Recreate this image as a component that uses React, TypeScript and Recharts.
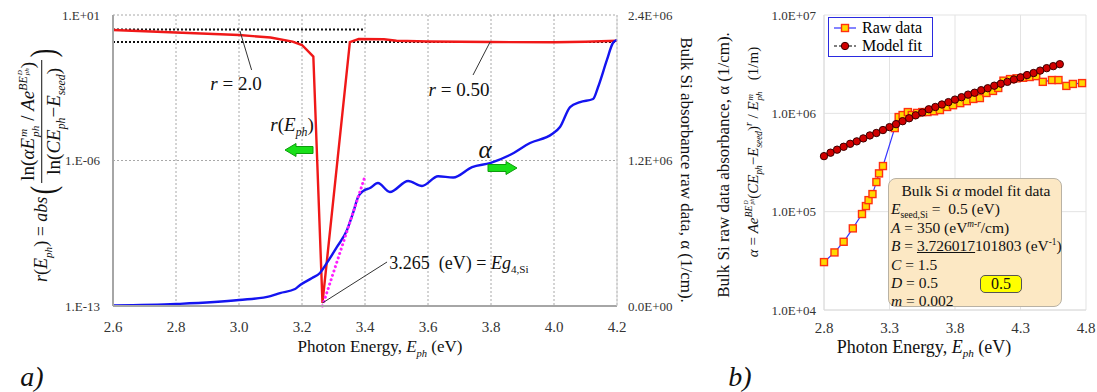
import React from 'react';
import { LineChart, Line, XAxis, YAxis, CartesianGrid, ReferenceLine, Legend } from 'recharts';

const SERIF = "'Liberation Serif', 'DejaVu Serif', serif";

// ---- panel a) ----
// r(E_ph), left log axis
const rEnergy = [2.6, 2.8, 3.0, 3.1, 3.17, 3.2, 3.236, 3.265, 3.352, 3.38, 3.46, 3.5, 3.6, 3.8, 4.0, 4.1, 4.2];
const rValue = [1.9, 1.45, 1.09, 0.83, 0.52, 0.36, 0.1, 1.4e-13, 0.5, 0.7, 0.68, 0.58, 0.53, 0.5, 0.49, 0.52, 0.58];

// raw absorbance alpha (1/cm), right linear axis
const alphaEnergy = [2.6, 2.8, 3.0, 3.1, 3.13, 3.178, 3.194, 3.232, 3.257, 3.279, 3.311, 3.343, 3.362, 3.378, 3.394, 3.416,
  3.441, 3.479, 3.537, 3.581, 3.632, 3.68, 3.74, 3.797, 3.86, 3.924, 3.994, 4.019, 4.051, 4.083, 4.124, 4.14, 4.168, 4.187, 4.2];
const alphaValue = [4e3, 16.5e3, 49e3, 82e3, 107e3, 140e3, 173e3, 231e3, 272e3, 355e3, 487e3, 627e3, 767e3, 899e3, 948e3, 973e3,
  1014e3, 940e3, 1031e3, 990e3, 1070e3, 1060e3, 1146e3, 1179e3, 1245e3, 1344e3, 1418e3, 1476e3, 1641e3, 1682e3, 1707e3, 1806e3, 2029e3, 2169e3, 2194e3];

// tangent used to read Eg
const tangentEnergy = [3.265, 3.4];
const tangentAlpha = [0, 1.07e6];

// dotted reference levels r = 2.0 and r = 0.50
const refTwoEnergy = [2.6, 3.4];
const refHalfEnergy = [2.6, 4.2];

const aTicksX = [2.6, 2.8, 3.0, 3.2, 3.4, 3.6, 3.8, 4.0, 4.2];
const aTicksLeft = [1e-13, 1e-6, 10];
const aTicksRight = [0, 1.2e6, 2.4e6];

// ---- panel b) ----
const rawEnergy = [2.8, 2.88, 2.95, 3.02, 3.09, 3.12, 3.14, 3.17, 3.2, 3.22, 3.25, 3.34, 3.37, 3.4, 3.44, 3.47, 3.51, 3.55,
  3.59, 3.64, 3.685, 3.74, 3.785, 3.84, 3.89, 3.94, 3.99, 4.04, 4.09, 4.13, 4.17, 4.22, 4.27, 4.32, 4.37, 4.42, 4.47, 4.54,
  4.59, 4.65, 4.7, 4.77];
const rawAlpha = [3.07e4, 3.85e4, 4.94e4, 6.76e4, 9.46e4, 1.14e5, 1.31e5, 1.51e5, 2.0e5, 2.45e5, 2.91e5, 7.08e5, 9.16e5, 9.61e5,
  1.03e6, 9.61e5, 1.01e6, 1.03e6, 1.03e6, 1.05e6, 1.08e6, 1.16e6, 1.21e6, 1.27e6, 1.33e6, 1.4e6, 1.43e6, 1.61e6, 1.69e6,
  1.81e6, 2.15e6, 2.23e6, 2.27e6, 2.3e6, 2.34e6, 2.39e6, 2.09e6, 2.18e6, 2.18e6, 1.9e6, 1.99e6, 2.03e6];

const fitEnergy = [2.8, 2.85, 2.9, 2.95, 3.0, 3.05, 3.1, 3.15, 3.2, 3.25, 3.3, 3.35, 3.4, 3.45, 3.5, 3.55, 3.6, 3.65, 3.7,
  3.75, 3.8, 3.85, 3.9, 3.95, 4.0, 4.05, 4.1, 4.15, 4.2, 4.25, 4.3, 4.35, 4.4, 4.45, 4.5, 4.55, 4.6];
const fitAlpha = [3.67e5, 3.98e5, 4.27e5, 4.57e5, 4.9e5, 5.19e5, 5.56e5, 5.96e5, 6.31e5, 6.76e5, 7.24e5, 7.76e5, 8.32e5,
  8.91e5, 9.55e5, 1.02e6, 1.1e6, 1.16e6, 1.23e6, 1.3e6, 1.38e6, 1.46e6, 1.55e6, 1.62e6, 1.72e6, 1.8e6, 1.91e6, 2.0e6,
  2.09e6, 2.21e6, 2.32e6, 2.45e6, 2.57e6, 2.72e6, 2.88e6, 3.02e6, 3.16e6];

const bTicksX = [2.8, 3.3, 3.8, 4.3, 4.8];
const bTicksY = [1e4, 1e5, 1e6, 1e7];

const pts = (xs: number[], ys: number[]) => xs.map((x, i) => ({ x, y: ys[i] }));

const pad2 = (n: number) => String(Math.abs(n)).padStart(2, '0');
const fmtShort = (v: number) => {
  const e = Math.round(Math.log10(v));
  return `1.E${e < 0 ? '-' : '+'}${pad2(e)}`;
};
const fmtSci = (v: number) => {
  if (v === 0) return '0.0E+00';
  const e = Math.floor(Math.log10(v) + 1e-9);
  return `${(v / 10 ** e).toFixed(1)}E${e < 0 ? '-' : '+'}${pad2(e)}`;
};

const tickStyle = { fontSize: 13, fill: '#333', fontFamily: SERIF };
const xTickStyle = { fontSize: 15, fill: '#333', fontFamily: SERIF };

// centred absolute text, optionally rotated
const at = (x: number, y: number, rot = 0): React.CSSProperties => ({
  position: 'absolute', left: x, top: y, whiteSpace: 'nowrap', fontFamily: SERIF, color: '#111',
  transform: `translate(-50%, -50%)${rot ? ` rotate(${rot}deg)` : ''}`,
});

const SS = ({ sup, sub }: { sup: React.ReactNode; sub: React.ReactNode }) => (
  <span style={{ display: 'inline-flex', flexDirection: 'column', fontSize: '0.6em', lineHeight: 1, verticalAlign: 'middle', marginLeft: 1 }}>
    <span>{sup}</span>
    <span>{sub}</span>
  </span>
);
const sub = { fontSize: '0.62em' };

const RawDot = (p: any) => (
  <rect key={`r${p.index}`} x={p.cx - 3.5} y={p.cy - 3.5} width={7} height={7} fill="#ffd800" stroke="#ff3010" strokeWidth={1.4} />
);
const FitDot = (p: any) => (
  <circle key={`f${p.index}`} cx={p.cx} cy={p.cy} r={3.7} fill="#d00000" stroke="#3a0000" strokeWidth={1} />
);

const LegendBox = () => (
  <div style={{ border: '1.5px solid #2a2ae0', background: '#fff', width: 105, height: 40, boxSizing: 'border-box', fontFamily: SERIF, fontSize: 16, padding: '1px 4px', whiteSpace: 'nowrap' }}>
    <div style={{ display: 'flex', alignItems: 'center', height: 18 }}>
      <svg width={24} height={12} style={{ marginRight: 5 }}>
        <line x1={1} y1={6} x2={23} y2={6} stroke="#3333ff" strokeWidth={1.2} />
        <rect x={8.5} y={2.5} width={7} height={7} fill="#ffd800" stroke="#ff3010" strokeWidth={1.4} />
      </svg>
      Raw data
    </div>
    <div style={{ display: 'flex', alignItems: 'center', height: 18 }}>
      <svg width={24} height={12} style={{ marginRight: 5 }}>
        <line x1={1} y1={6} x2={23} y2={6} stroke="#000" strokeWidth={1.2} strokeDasharray="3 2" />
        <circle cx={12} cy={6} r={3.7} fill="#d00000" stroke="#3a0000" strokeWidth={1} />
      </svg>
      Model fit
    </div>
  </div>
);

export default function App() {
  return (
    <div style={{ position: 'fixed', left: 0, top: 0, width: 1097, height: 392, background: '#fff', overflow: 'hidden', fontFamily: SERIF }}>
      {/* panel a */}
      <div style={{ position: 'absolute', left: 0, top: 0 }}>
        <LineChart width={740} height={392} margin={{ top: 15, right: 0, bottom: 56, left: 0 }}>
          <CartesianGrid yAxisId="left" stroke="#a8a8a8" strokeDasharray="2 2" />
          <XAxis type="number" dataKey="x" domain={[2.6, 4.2]} ticks={aTicksX} tickFormatter={(v) => v.toFixed(1)}
            height={30} tickLine={false} tickMargin={9} tick={xTickStyle} axisLine={{ stroke: '#a6a6a6', strokeWidth: 2 }} allowDuplicatedCategory={false} />
          <YAxis yAxisId="left" scale="log" domain={[1e-13, 10]} ticks={aTicksLeft} tickFormatter={fmtShort} allowDataOverflow
            width={113} tickLine={false} tickMargin={7} tick={tickStyle} axisLine={{ stroke: '#a6a6a6', strokeWidth: 2 }} />
          <YAxis yAxisId="right" orientation="right" domain={[0, 2.4e6]} ticks={aTicksRight} tickFormatter={fmtSci}
            width={123} tickLine={false} tickMargin={5} tick={tickStyle} axisLine={{ stroke: '#d0d0d0' }} />

          <Line yAxisId="left" data={pts(refTwoEnergy, [2.0, 2.0])} dataKey="y" stroke="#111" strokeWidth={2} strokeDasharray="2 2" dot={false} isAnimationActive={false} />
          <Line yAxisId="left" data={pts(refHalfEnergy, [0.5, 0.5])} dataKey="y" stroke="#111" strokeWidth={2} strokeDasharray="2 2" dot={false} isAnimationActive={false} />
          <Line yAxisId="left" data={pts(rEnergy, rValue)} dataKey="y" stroke="#f01818" strokeWidth={2.4} dot={false} type="linear" isAnimationActive={false} />
          <Line yAxisId="right" data={pts(alphaEnergy, alphaValue)} dataKey="y" stroke="#1414f0" strokeWidth={2.4} dot={false} type="monotone" isAnimationActive={false} />
          <Line yAxisId="right" data={pts(tangentEnergy, tangentAlpha)} dataKey="y" stroke="#ff20ff" strokeWidth={3} strokeDasharray="0.1 4.5" strokeLinecap="round" dot={false} isAnimationActive={false} />

          <ReferenceLine yAxisId="left" segment={[{ x: 3.003, y: 1.7 }, { x: 3.04, y: 0.0227 }]} stroke="#333" strokeWidth={1} />
          <ReferenceLine yAxisId="left" segment={[{ x: 3.797, y: 0.5 }, { x: 3.743, y: 0.013 }]} stroke="#333" strokeWidth={1} />
          <ReferenceLine yAxisId="right" segment={[{ x: 3.265, y: 25000 }, { x: 3.47, y: 363000 }]} stroke="#333" strokeWidth={1} />
        </LineChart>
      </div>

      {/* panel b */}
      <div style={{ position: 'absolute', left: 740, top: 0 }}>
        <LineChart width={357} height={392} margin={{ top: 15, right: 11, bottom: 52, left: 0 }}>
          <CartesianGrid stroke="#e3e3e3" />
          <XAxis type="number" dataKey="x" domain={[2.8, 4.8]} ticks={bTicksX} tickFormatter={(v) => v.toFixed(1)}
            height={30} tickLine={false} tickMargin={6} tick={xTickStyle} axisLine={{ stroke: '#dcdcdc' }} />
          <YAxis scale="log" domain={[1e4, 1e7]} ticks={bTicksY} tickFormatter={fmtSci} allowDataOverflow
            width={84} tickLine={false} tickMargin={2} tick={tickStyle} axisLine={{ stroke: '#dcdcdc' }} />
          <Legend layout="horizontal" verticalAlign="middle" align="center" content={() => <LegendBox />}
            wrapperStyle={{ left: 88, top: 17, width: 105, height: 40 }} />
          <Line data={pts(rawEnergy, rawAlpha)} dataKey="y" name="Raw data" stroke="#3535ff" strokeWidth={1.2} dot={RawDot} isAnimationActive={false} />
          <Line data={pts(fitEnergy, fitAlpha)} dataKey="y" name="Model fit" stroke="#000" strokeWidth={1} strokeDasharray="3 2" dot={FitDot} isAnimationActive={false} />
        </LineChart>
      </div>

      {/* green arrows */}
      <svg width={1097} height={392} style={{ position: 'absolute', left: 0, top: 0, pointerEvents: 'none' }}>
        <polygon points="285,150 296,143.5 296,146.5 313,146.5 313,153.5 296,153.5 296,156.5" fill="#19e019" stroke="#0c9c0c" strokeWidth={1} />
        <polygon points="517,168 506,161.5 506,164.5 488,164.5 488,171.5 506,171.5 506,174.5" fill="#19e019" stroke="#0c9c0c" strokeWidth={1} />
      </svg>

      {/* panel a annotations */}
      <div style={{ ...at(236, 84), fontSize: 19 }}><i>r</i> = 2.0</div>
      <div style={{ ...at(459, 90), fontSize: 19 }}><i>r</i> = 0.50</div>
      <div style={{ ...at(292, 127), fontSize: 19 }}><i>r</i>(<i>E<sub style={sub}>ph</sub></i>)</div>
      <div style={{ ...at(485, 150), fontSize: 25 }}><i>α</i></div>
      <div style={{ ...at(459, 264), fontSize: 18 }}>3.265&nbsp; (eV) = <i>Eg</i><sub style={sub}>4,Si</sub></div>

      <div style={{ ...at(380, 348), fontSize: 17 }}>Photon Energy, <i>E<sub style={sub}>ph</sub></i> (eV)</div>
      <div style={{ ...at(686, 170, 90), fontSize: 17 }}>Bulk Si absorbance raw data, α (1/cm).</div>

      <div style={{ ...at(43, 164, -90), fontSize: 18, display: 'flex', alignItems: 'center' }}>
        <span><i>r</i>(<i>E<sub style={sub}>ph</sub></i>) = <i>abs</i></span>
        <span style={{ fontSize: 36, lineHeight: 1, margin: '0 1px', transform: 'scaleX(0.7)' }}>(</span>
        <span style={{ display: 'inline-flex', flexDirection: 'column', alignItems: 'center', fontSize: 19 }}>
          <span style={{ borderBottom: '1px solid #111', padding: '0 2px', lineHeight: 1.25 }}>
            ln(<i>αE</i><SS sup={<i>m</i>} sub={<i>ph</i>} /> / <i>Ae</i>
            <sup style={{ fontSize: '0.62em' }}><i>BE</i><SS sup={<i>D</i>} sub={<i>ph</i>} /></sup>)
          </span>
          <span style={{ lineHeight: 1.25 }}>ln(<i>CE</i><sub style={sub}><i>ph</i></sub>−<i>E</i><sub style={sub}><i>seed</i></sub>)</span>
        </span>
        <span style={{ fontSize: 36, lineHeight: 1, margin: '0 1px', transform: 'scaleX(0.7)' }}>)</span>
      </div>

      {/* panel b labels */}
      <div style={{ ...at(724, 165, -90), fontSize: 17 }}>Bulk Si raw data absorbance, α (1/cm).</div>
      <div style={{ ...at(753, 152, -90), fontSize: 15 }}>
        <i>α</i> = <i>Ae</i><sup style={{ fontSize: '0.65em' }}><i>BE</i><SS sup={<i>D</i>} sub={<i>ph</i>} /></sup>
        (<i>CE<sub style={sub}>ph</sub></i>−<i>E<sub style={sub}>seed</sub></i>)<sup style={{ fontSize: '0.65em' }}><i>r</i></sup>
        {' '}/ <i>E</i><SS sup={<i>m</i>} sub={<i>ph</i>} />&nbsp;&nbsp;&nbsp;(1/m)
      </div>
      <div style={{ ...at(924, 348), fontSize: 18 }}>Photon Energy, <i>E<sub style={sub}>ph</sub></i> (eV)</div>

      {/* model parameters box */}
      <div style={{ position: 'absolute', left: 888, top: 178, width: 174, height: 129, boxSizing: 'border-box', background: '#fce8c4',
        border: '1.5px solid #b9b2a4', borderRadius: 8, fontFamily: SERIF, fontSize: 15.5, lineHeight: '18.4px', padding: '3px 0 0 2px', color: '#111', whiteSpace: 'nowrap' }}>
        <div style={{ textAlign: 'center' }}>Bulk Si <i>α</i> model fit data</div>
        <div><i>E</i><sub style={{ fontSize: '0.62em', lineHeight: 0 }}>seed,Si</sub> =&nbsp; 0.5 (eV)</div>
        <div><i>A</i> = 350 (eV<sup style={{ fontSize: '0.6em', lineHeight: 0 }}><i>m-r</i></sup>/cm)</div>
        <div><i>B</i> = <span style={{ textDecoration: 'underline' }}>3.726017</span>101803 (eV<sup style={{ fontSize: '0.6em', lineHeight: 0 }}>-1</sup>)</div>
        <div><i>C</i> = 1.5</div>
        <div><i>D</i> = 0.5</div>
        <div><i>m</i> = 0.002</div>
        <div style={{ position: 'absolute', left: 91, top: 96, width: 42, height: 18, boxSizing: 'border-box', background: '#ffff00',
          border: '1.2px solid #555', borderRadius: 5, textAlign: 'center', lineHeight: '16px', fontSize: 16 }}>0.5</div>
      </div>

      <div style={{ ...at(32, 377), fontSize: 28 }}><i>a)</i></div>
      <div style={{ ...at(740, 377), fontSize: 28 }}><i>b)</i></div>
    </div>
  );
}
